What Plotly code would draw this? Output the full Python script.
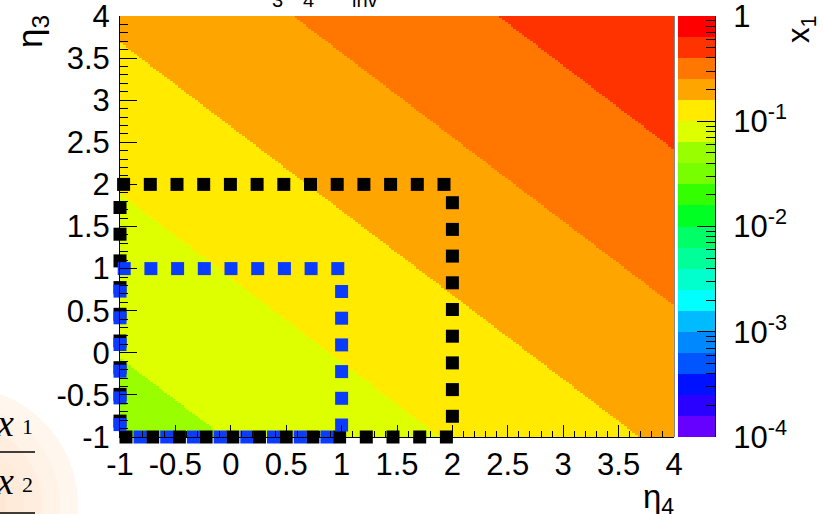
import numpy as np
import plotly.graph_objects as go

W, H = 823, 514

# ---- plot geometry (pixels) ----
PLOT_L, PLOT_R, PLOT_T, PLOT_B = 120, 674, 16, 437
BAR_L, BAR_R = 678, 715

def px(x):
    return x / W

def py(y):
    return 1 - y / H

# ---- axes ----
eta4_range = [-1, 4]
eta3_range = [-1, 4]
axis_tickvals = [-1, -0.5, 0, 0.5, 1, 1.5, 2, 2.5, 3, 3.5, 4]
axis_ticktext = ["-1", "-0.5", "0", "0.5", "1", "1.5", "2", "2.5", "3", "3.5", "4"]

# ---- x1 colour scale: 20 log bands between 1e-4 and 1 ----
log_x1_min, log_x1_max = -4, 0
band_colors = [
    "#6600ff", "#2a00ff", "#0011ff", "#0055ff", "#0088ff",
    "#00bbff", "#00ffff", "#00ffcc", "#00ff99", "#00ff66",
    "#00ff22", "#33ff00", "#77ff00", "#99ff00", "#ddff00",
    "#ffea00", "#ffa500", "#ff7700", "#ff3300", "#ff0000",
]
bar_tickvals = [-4, -3, -2, -1, 0]
bar_ticktext = ["10<sup>-4</sup>", "10<sup>-3</sup>", "10<sup>-2</sup>", "10<sup>-1</sup>", "1"]

# ---- x1 contour crossings along eta3 + eta4 ----
eta_sum_cross = [-1.07, 0.90, 2.68, 4.56, 6.41]
x1_cross = [0.0631, 0.100, 0.158, 0.251, 0.398]

# ---- eta regions (boxes) ----
box_outer = (-1, 2)
box_inner = (-1, 1)

n_bands = len(band_colors)
band_step = (log_x1_max - log_x1_min) / n_bands

# discrete colour scale
colorscale = []
for i, c in enumerate(band_colors):
    colorscale.append([i / n_bands, c])
    colorscale.append([(i + 1) / n_bands, c])

# binned eta grid
nbins = 200
x_edges = np.linspace(eta4_range[0], eta4_range[1], nbins + 1)
y_edges = np.linspace(eta3_range[0], eta3_range[1], nbins + 1)
xc = 0.5 * (x_edges[:-1] + x_edges[1:])
yc = 0.5 * (y_edges[:-1] + y_edges[1:])
S = yc[:, None] + xc[None, :]

log_cross = np.log10(x1_cross)
band_low = np.concatenate([[log_cross[0] - band_step], log_cross])
k = np.searchsorted(eta_sum_cross, S)
z_main = band_low[k] + band_step / 2

fig = go.Figure()

fig.add_trace(go.Heatmap(
    x=x_edges, y=y_edges, z=z_main,
    zmin=log_x1_min, zmax=log_x1_max,
    colorscale=colorscale, showscale=False,
    hoverinfo="skip", xaxis="x", yaxis="y",
))

# palette bar
bar_edges = np.linspace(log_x1_min, log_x1_max, n_bands + 1)
bar_z = (0.5 * (bar_edges[:-1] + bar_edges[1:])).reshape(-1, 1)
fig.add_trace(go.Heatmap(
    x=[0, 1], y=bar_edges, z=bar_z,
    zmin=log_x1_min, zmax=log_x1_max,
    colorscale=colorscale, showscale=False,
    hoverinfo="skip", xaxis="x2", yaxis="y2",
))

# dashed box outlines drawn as square dashes along the perimeter
kx = (PLOT_R - PLOT_L) / (eta4_range[1] - eta4_range[0])
ky = (PLOT_B - PLOT_T) / (eta3_range[1] - eta3_range[0])

def perimeter_marks(lo, hi, start, step):
    corners = [(lo, lo), (hi, lo), (hi, hi), (lo, hi), (lo, lo)]
    xs, ys = [], []
    s = start
    travelled = 0.0
    for (xa, ya), (xb, yb) in zip(corners[:-1], corners[1:]):
        seg = abs(xb - xa) * kx + abs(yb - ya) * ky
        while s <= travelled + seg:
            t = (s - travelled) / seg
            xs.append(xa + t * (xb - xa))
            ys.append(ya + t * (yb - ya))
            s += step
        travelled += seg
    return xs, ys

for (lo, hi), color, start in [(box_outer, "#000000", 6), (box_inner, "#0a3cff", 20)]:
    bx, by = perimeter_marks(lo, hi, start, 26.7)
    fig.add_trace(go.Scatter(
        x=bx, y=by, mode="markers",
        marker=dict(symbol="square", size=13, color=color, line=dict(width=0)),
        cliponaxis=False, hoverinfo="skip", showlegend=False,
        xaxis="x", yaxis="y",
    ))

font_sans = "Liberation Sans"
tickfont = dict(family=font_sans, size=31, color="black")

minor_log = [np.log10(m * 10.0 ** e) for e in range(-4, 0) for m in range(2, 10)]

common = dict(automargin=False, showgrid=False, zeroline=False, ticklabeloverflow="allow")

fig.update_layout(
    template="none",
    width=W, height=H,
    margin=dict(l=0, r=0, t=0, b=0),
    paper_bgcolor="white", plot_bgcolor="white",
    showlegend=False,
    xaxis=dict(
        domain=[px(PLOT_L), px(PLOT_R)], range=eta4_range, anchor="y",
        tickmode="array", tickvals=axis_tickvals, ticktext=axis_ticktext,
        ticks="inside", ticklen=12, tickcolor="black", tickwidth=1,
        minor=dict(dtick=0.1, tick0=-1, ticks="inside", ticklen=6, tickcolor="black", showgrid=False),
        showline=True, linecolor="black", linewidth=1, mirror=False,
        tickfont=tickfont, ticklabelstandoff=0, **common,
    ),
    yaxis=dict(
        domain=[py(PLOT_B), py(PLOT_T)], range=eta3_range, anchor="x",
        tickmode="array", tickvals=axis_tickvals, ticktext=axis_ticktext,
        ticks="inside", ticklen=17, tickcolor="black", tickwidth=1,
        minor=dict(dtick=0.1, tick0=-1, ticks="inside", ticklen=8, tickcolor="black", showgrid=False),
        showline=True, linecolor="black", linewidth=1, mirror=False,
        tickfont=tickfont, ticklabelstandoff=3, **common,
    ),
    xaxis2=dict(
        domain=[px(BAR_L), px(BAR_R)], range=[0, 1], anchor="y2",
        showticklabels=False, ticks="", showline=False, **common,
    ),
    yaxis2=dict(
        domain=[py(PLOT_B), py(PLOT_T)], range=[log_x1_min, log_x1_max], anchor="x2",
        side="right",
        tickmode="array", tickvals=bar_tickvals, ticktext=bar_ticktext,
        ticks="inside", ticklen=18, tickcolor="black", tickwidth=1,
        minor=dict(tickmode="array", tickvals=minor_log, ticks="inside", ticklen=9,
                   tickcolor="black", showgrid=False),
        showline=True, linecolor="black", linewidth=1,
        tickfont=tickfont, ticklabelstandoff=11, **common,
    ),
)

shapes = []
# right frame edge of the plot
shapes.append(dict(type="line", xref="paper", yref="paper",
                   x0=px(PLOT_R + 0.5), x1=px(PLOT_R + 0.5), y0=py(PLOT_B), y1=py(PLOT_T),
                   line=dict(color="#888888", width=1)))
# soft peach disc in the lower-left corner
cx, cy = -40, 505
for r, a in [(118, 0.16), (100, 0.07), (82, 0.07), (64, 0.07), (46, 0.07)]:
    shapes.append(dict(type="circle", xref="paper", yref="paper", layer="below",
                       x0=px(cx - r), x1=px(cx + r), y0=py(cy + r), y1=py(cy - r),
                       fillcolor=f"rgba(252,200,140,{a})", line=dict(width=0)))
# fraction bars
for yy in (452, 513):
    shapes.append(dict(type="line", xref="paper", yref="paper",
                       x0=px(0), x1=px(35), y0=py(yy), y1=py(yy),
                       line=dict(color="black", width=1.5)))
fig.update_layout(shapes=shapes)

annotations = []
def note(text, x, y, size, family=font_sans, xanchor="center", yanchor="middle", angle=0):
    annotations.append(dict(text=text, x=px(x), y=py(y), xref="paper", yref="paper",
                            xanchor=xanchor, yanchor=yanchor, textangle=angle,
                            showarrow=False, font=dict(family=family, size=size, color="black")))

# axis titles
note("η<sub>3</sub>", 32, 31, 35, angle=-90)
note("η<sub>4</sub>", 676, 476, 33, xanchor="right", yanchor="top")
note("x<sub>1</sub>", 801, 29, 31, angle=-90)
# title subscripts peeking in at the top edge
note("3", 277, 0, 20)
note("4", 308, 0, 20)
note("inv", 365, 0, 20)
# x1 / x2 fraction
note("<i>x</i>", 16, 423, 38, family="Liberation Serif", xanchor="right")
note("1", 27, 426, 22, family="Liberation Serif")
note("<i>x</i>", 16, 481, 38, family="Liberation Serif", xanchor="right")
note("2", 27, 484, 22, family="Liberation Serif")
fig.update_layout(annotations=annotations)

fig.write_html("out.html")
